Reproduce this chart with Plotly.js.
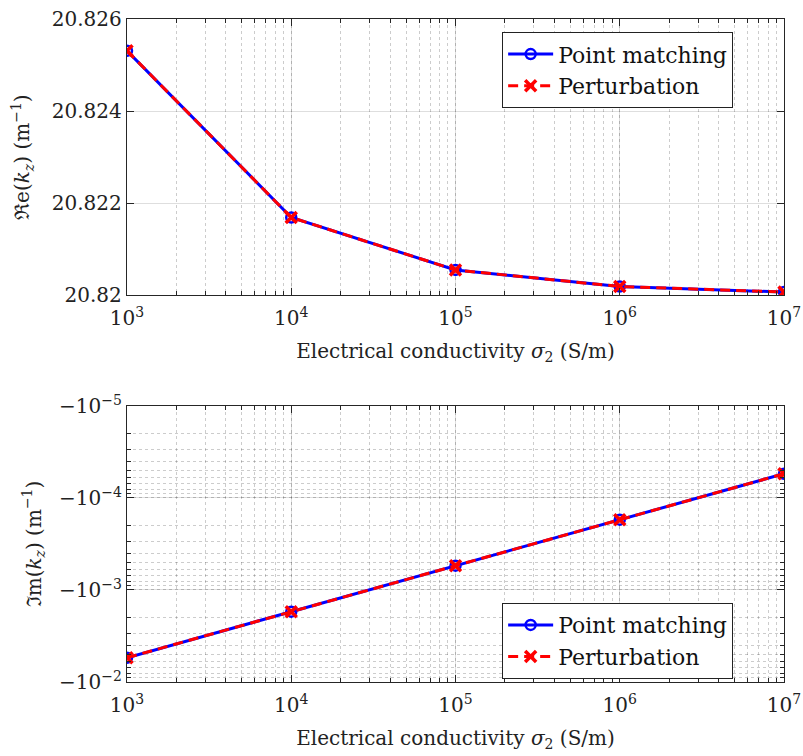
<!DOCTYPE html>
<html><head><meta charset="utf-8">
<script src="https://cdn.plot.ly/plotly-3.0.1.min.js"></script>
<style>html,body{margin:0;padding:0;background:#fff}</style>
</head><body>
<div id="plot" style="width:803px;height:756px"></div>
<script>
// ---- data ----
const sigma = [1e3, 1e4, 1e5, 1e6, 1e7];
const reKzPointMatching = [20.82531, 20.82169, 20.82055, 20.82019, 20.82007];
const reKzPerturbation  = [20.82531, 20.82169, 20.82055, 20.82019, 20.82007];
const imKzPointMatching = [-5.45e-3, -1.72e-3, -5.44e-4, -1.72e-4, -5.45e-5];
const imKzPerturbation  = [-5.45e-3, -1.72e-3, -5.44e-4, -1.72e-4, -5.45e-5];
const seriesNames = ['Point matching', 'Perturbation'];
const xTickVals = [1e3, 1e4, 1e5, 1e6, 1e7];
const xTickText = ['10<sup>3</sup>', '10<sup>4</sup>', '10<sup>5</sup>', '10<sup>6</sup>', '10<sup>7</sup>'];
const reTickVals = [20.82, 20.822, 20.824, 20.826];
const reTickText = ['20.82', '20.822', '20.824', '20.826'];
const imTickVals = [1e-5, 1e-4, 1e-3, 1e-2];
const imTickText = ['\u221210<sup>\u22125</sup>', '\u221210<sup>\u22124</sup>', '\u221210<sup>\u22123</sup>', '\u221210<sup>\u22122</sup>'];
const xTitle = 'Electrical conductivity <i>\u03c3</i><sub>2</sub> (S/m)';
const reTitle = '\u211ce(<i>k</i><sub><i>z</i></sub>) (m<sup>\u22121</sup>)';
const imTitle = '\u2111m(<i>k</i><sub><i>z</i></sub>) (m<sup>\u22121</sup>)';

const FONT = 'DejaVu Serif';
const BLUE = 'rgb(0,0,255)', RED = 'rgb(255,0,0)';

function pmTrace(y, xa, ya, leg){
  return {x: sigma, y: y, xaxis: xa, yaxis: ya, legend: leg, name: seriesNames[0], mode: 'lines+markers',
    line: {color: BLUE, width: 3}, marker: {symbol: 'circle-open', size: 10, color: BLUE, line: {width: 2.5, color: BLUE}}};
}
function ptTrace(y, xa, ya, leg){
  return {x: sigma, y: y, xaxis: xa, yaxis: ya, legend: leg, name: seriesNames[1], mode: 'lines+markers',
    line: {color: RED, width: 3, dash: '10px,6px'}, marker: {symbol: 'x-thin-open', size: 11, color: RED, line: {width: 3.5, color: RED}}};
}
const absIm = a => a.map(v => Math.abs(v));

const data = [
  pmTrace(reKzPointMatching, 'x', 'y', 'legend'),
  ptTrace(reKzPerturbation, 'x', 'y', 'legend'),
  pmTrace(absIm(imKzPointMatching), 'x2', 'y2', 'legend2'),
  ptTrace(absIm(imKzPerturbation), 'x2', 'y2', 'legend2')
];

const gridMajor = 'rgba(0,0,0,0.13)';
const gridMinor = 'rgba(0,0,0,0.2)';
function TF(){ return {family: FONT, size: 20, color: '#222'}; }
function logMinor(){
  return {dtick: 'D1', ticks: 'inside', ticklen: 4, tickcolor: '#262626', showgrid: true, gridcolor: gridMinor, griddash: 'dot', gridwidth: 1};
}
function xAxis(anchor){
  return {type: 'log', range: [3, 7], anchor: anchor, domain: [0, 1],
    tickvals: xTickVals, ticktext: xTickText, ticklabeloverflow: 'allow', ticklabelstandoff: 5,
    ticks: 'inside', ticklen: 7, tickcolor: '#262626',
    showline: true, linecolor: '#262626', linewidth: 1.2, mirror: 'ticks', zeroline: false,
    showgrid: true, gridcolor: gridMajor, gridwidth: 1,
    minor: logMinor(),
    tickfont: TF(),
    title: {text: xTitle, font: TF(), standoff: 14}};
}
const layout = {
  width: 803, height: 756, paper_bgcolor: '#fff', plot_bgcolor: '#fff',
  font: {family: FONT, size: 20, color: '#222'},
  margin: {l: 127, r: 19, t: 19, b: 74},
  showlegend: true,
  xaxis: xAxis('y'),
  xaxis2: xAxis('y2'),
  yaxis: {domain: [0.5833, 1], anchor: 'x', range: [20.82, 20.826],
    tickvals: reTickVals, ticktext: reTickText, ticks: 'inside', ticklen: 7, tickcolor: '#262626',
    showline: true, linecolor: '#262626', linewidth: 1.2, mirror: 'ticks', zeroline: false,
    showgrid: true, gridcolor: gridMajor,
    tickfont: TF(),
    title: {text: reTitle, font: TF(), standoff: 16}},
  yaxis2: {domain: [0, 0.4163], anchor: 'x2', type: 'log', range: [-2, -5],
    tickvals: imTickVals, ticktext: imTickText,
    ticks: 'inside', ticklen: 7, tickcolor: '#262626',
    showline: true, linecolor: '#262626', linewidth: 1.2, mirror: 'ticks', zeroline: false,
    showgrid: true, gridcolor: gridMajor,
    minor: logMinor(),
    tickfont: TF(),
    title: {text: imTitle, font: TF(), standoff: 12}},
  legend: {x: 0.571, y: 0.980, xanchor: 'left', yanchor: 'top', bgcolor: '#fff', bordercolor: '#222', borderwidth: 1,
    font: {family: FONT, size: 22, color: '#111'}, itemwidth: 45, tracegroupgap: 0},
  legend2: {x: 0.571, y: 0.119, xanchor: 'left', yanchor: 'top', bgcolor: '#fff', bordercolor: '#222', borderwidth: 1,
    font: {family: FONT, size: 22, color: '#111'}, itemwidth: 45, tracegroupgap: 0}
};
Plotly.newPlot('plot', data, layout, {staticPlot: true, displayModeBar: false});
</script>
</body></html>
